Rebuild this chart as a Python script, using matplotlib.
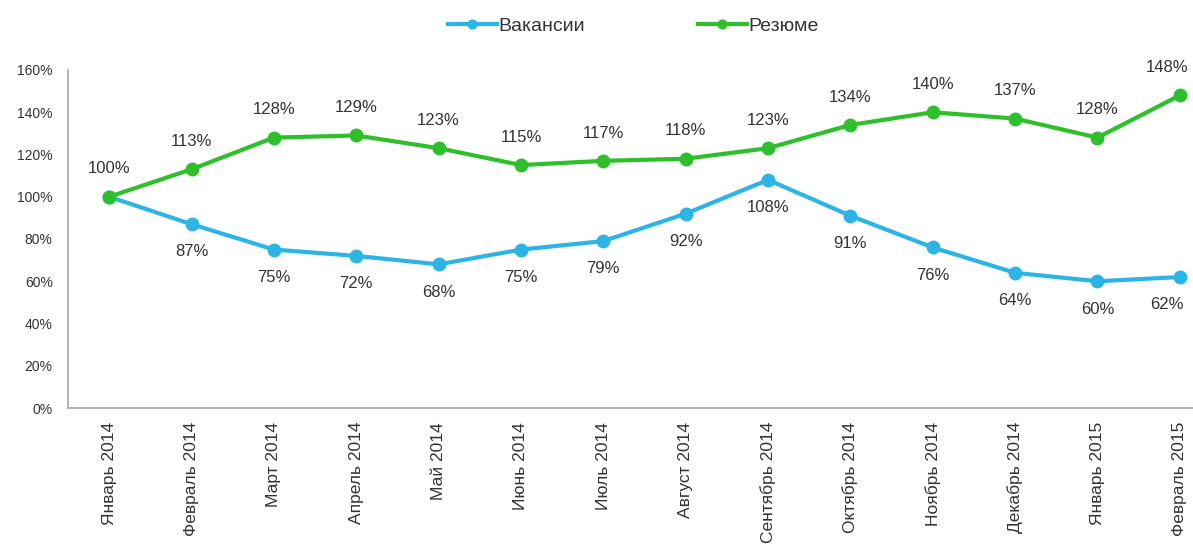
import matplotlib.pyplot as plt
from matplotlib.ticker import FuncFormatter

plt.rcParams['font.family'] = ['Liberation Sans', 'DejaVu Sans']

months = ['Январь 2014', 'Февраль 2014', 'Март 2014', 'Апрель 2014', 'Май 2014',
          'Июнь 2014', 'Июль 2014', 'Август 2014', 'Сентябрь 2014', 'Октябрь 2014',
          'Ноябрь 2014', 'Декабрь 2014', 'Январь 2015', 'Февраль 2015']
vacancies = [100, 87, 75, 72, 68, 75, 79, 92, 108, 91, 76, 64, 60, 62]
resumes = [100, 113, 128, 129, 123, 115, 117, 118, 123, 134, 140, 137, 128, 148]

blue = '#2bb5e6'
green = '#2ec02a'
text_color = '#333333'

fig = plt.figure(figsize=(11.93, 5.46), dpi=100)
ax = fig.add_axes([68 / 1193, 1 - 408 / 546, 1153 / 1193, 338 / 546])

x = list(range(len(months)))
ax.plot(x, vacancies, color=blue, lw=3, marker='o', ms=9, label='Вакансии', zorder=3)
ax.plot(x, resumes, color=green, lw=3, marker='o', ms=9, label='Резюме', zorder=3)

# value labels: vacancies under the points, resumes above
last = len(months) - 1
for i, v in enumerate(vacancies):
    if i == 0:
        continue
    dx = -9 if i == last else 0
    ax.annotate(f'{v}%', (i, v), xytext=(dx, -20), textcoords='offset points',
                ha='center', va='center', fontsize=12, color=text_color)
for i, v in enumerate(resumes):
    dx = -9 if i == last else 0
    ax.annotate(f'{v}%', (i, v), xytext=(dx, 20), textcoords='offset points',
                ha='center', va='center', fontsize=12, color=text_color)

ax.set_xlim(-0.5, len(months) - 0.5)
ax.set_ylim(0, 160)
ax.set_yticks(range(0, 161, 20))
ax.yaxis.set_major_formatter(FuncFormatter(lambda v, _: f'{v:.0f}%'))
ax.set_xticks(x)
ax.set_xticklabels(months, rotation=90, fontsize=12.5, color=text_color)
ax.tick_params(axis='y', labelsize=10, colors=text_color, length=0, pad=11)
ax.tick_params(axis='x', length=0, pad=10)

for side in ['top', 'right']:
    ax.spines[side].set_visible(False)
for side in ['left', 'bottom']:
    ax.spines[side].set_color('#a6a6a6')
    ax.spines[side].set_linewidth(1.2)

fig.legend(loc='upper center', bbox_to_anchor=(0.531, 1.0), ncol=2, frameon=False,
           fontsize=14, handlelength=2.5, handletextpad=0.1, columnspacing=5.8,
           markerscale=0.7, labelcolor=text_color)

fig.savefig('out.png', dpi=100)
